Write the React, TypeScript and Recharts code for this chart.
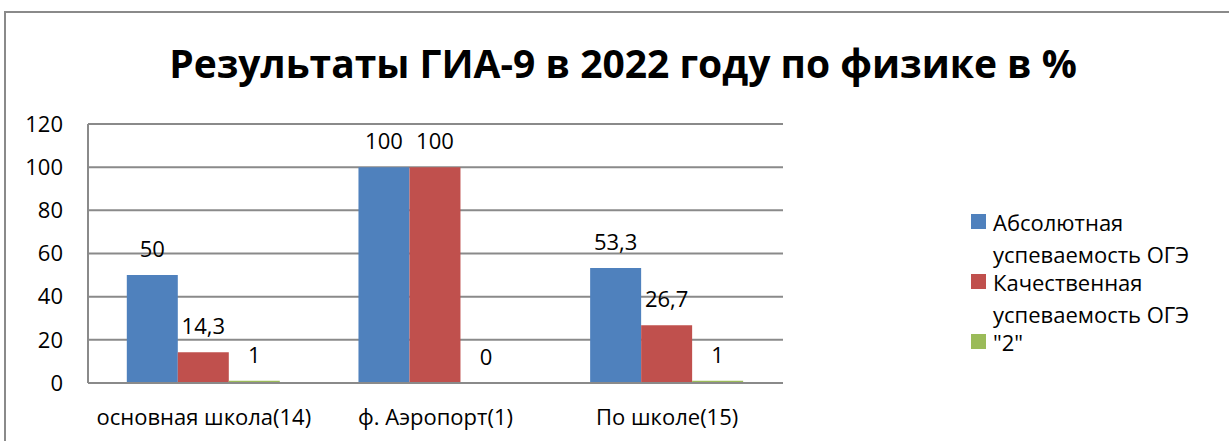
import { BarChart, Bar, XAxis, YAxis, CartesianGrid, Legend, LabelList } from "recharts";

const categories = ["основная школа(14)", "ф. Аэропорт(1)", "По школе(15)"];
const absolute = [50, 100, 53.3];
const quality = [14.3, 100, 26.7];
const twos = [1, 0, 1];
const yTicks = [0, 20, 40, 60, 80, 100, 120];

const series = [
  { key: "abs", name: "Абсолютная успеваемость ОГЭ", lines: ["Абсолютная", "успеваемость ОГЭ"], color: "#4F81BD" },
  { key: "qual", name: "Качественная успеваемость ОГЭ", lines: ["Качественная", "успеваемость ОГЭ"], color: "#C0504D" },
  { key: "two", name: '"2"', lines: ['"2"'], color: "#9BBB59" },
];

const data = categories.map((name, i) => ({
  name,
  abs: absolute[i],
  qual: quality[i],
  two: twos[i],
}));

const FONT = "'Open Sans', sans-serif";
const GRID = "#8a8a8a";
const LEGEND_W = 250;

const fmt = (v: unknown) => String(v).replace(".", ",");

function LegendBox() {
  return (
    <div style={{ fontFamily: FONT, fontSize: 22, color: "#000" }}>
      {series.map((s) => (
        <div key={s.key} style={{ position: "relative", paddingLeft: 22, marginBottom: -4 }}>
          <span
            style={{
              position: "absolute",
              left: 0,
              top: 8,
              width: 15,
              height: 15,
              background: s.color,
            }}
          />
          {s.lines.map((l) => (
            <div key={l} style={{ lineHeight: "32px", whiteSpace: "nowrap" }}>
              {l}
            </div>
          ))}
        </div>
      ))}
    </div>
  );
}

export default function App() {
  return (
    <div style={{ position: "absolute", left: 0, top: 0, width: 1229, height: 441, background: "#fff" }}>
      <div
        style={{
          position: "absolute",
          left: 4,
          top: 11,
          width: 1225,
          height: 430,
          borderTop: `2px solid ${GRID}`,
          borderLeft: `2px solid ${GRID}`,
          boxSizing: "border-box",
        }}
      />
      <div
        style={{
          position: "absolute",
          left: 623,
          top: 36,
          transform: "translateX(-50%)",
          fontFamily: FONT,
          fontWeight: 700,
          fontSize: 39,
          lineHeight: "53px",
          whiteSpace: "nowrap",
          color: "#000",
        }}
      >
        Результаты ГИА-9 в 2022 году по физике в %
      </div>
      {/* legend width gets added to the right offset, so take it off the margin */}
      <BarChart
        width={1229}
        height={441}
        data={data}
        margin={{ top: 124, right: 446 - LEGEND_W, bottom: 0, left: 0 }}
        barCategoryGap="16.75%"
        barGap={0}
      >
        <CartesianGrid vertical={false} stroke={GRID} strokeWidth={2} />
        <XAxis
          dataKey="name"
          interval={0}
          tickLine={false}
          tickSize={0}
          tickMargin={26}
          height={58}
          axisLine={{ stroke: GRID, strokeWidth: 2 }}
          tick={{ fill: "#000", fontSize: 22, fontFamily: FONT }}
        />
        <YAxis
          domain={[0, 120]}
          ticks={yTicks}
          width={88}
          tickLine={false}
          tickSize={0}
          tickMargin={25}
          axisLine={{ stroke: GRID, strokeWidth: 2 }}
          tick={{ fill: "#000", fontSize: 22, fontFamily: FONT }}
        />
        <Legend
          layout="horizontal"
          verticalAlign="middle"
          align="right"
          wrapperStyle={{ left: 971, top: 206, width: LEGEND_W }}
          content={() => <LegendBox />}
        />
        {series.map((s) => (
          // tiny minPointSize so the zero bar still gets its "0" label
          <Bar
            key={s.key}
            dataKey={s.key}
            name={s.name}
            fill={s.color}
            minPointSize={0.01}
            isAnimationActive={false}
          >
            <LabelList
              dataKey={s.key}
              position="top"
              offset={18}
              formatter={fmt}
              fill="#000"
              fontSize={22}
              fontFamily={FONT}
            />
          </Bar>
        ))}
      </BarChart>
    </div>
  );
}
